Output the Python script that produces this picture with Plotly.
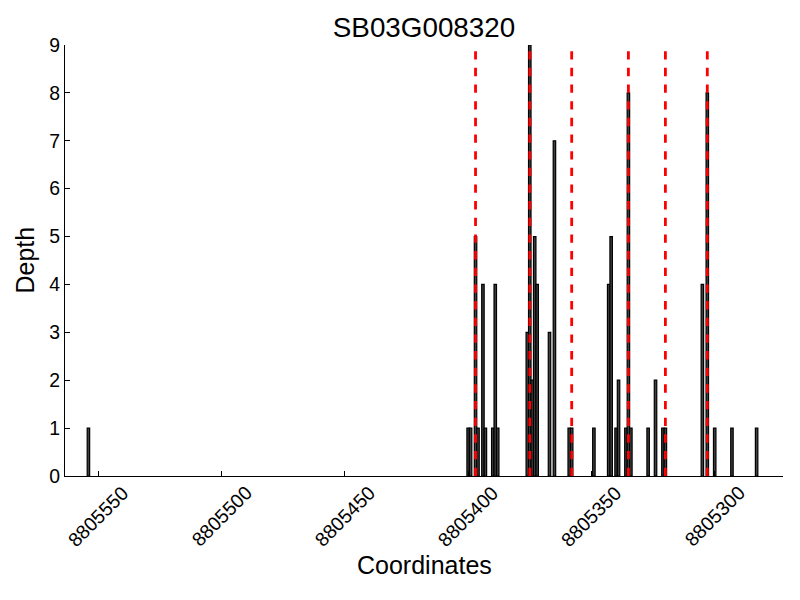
"""
Read depth plot for one gene, drawn with plotly
"""

import plotly.graph_objects as go

# depth per coordinate
positions = [8805554, 8805400, 8805399, 8805397, 8805396, 8805394, 8805393,
             8805390, 8805389, 8805388, 8805376, 8805375, 8805374, 8805373,
             8805372, 8805367, 8805365, 8805359, 8805358, 8805349, 8805343,
             8805342, 8805340, 8805339, 8805336, 8805335, 8805334, 8805327,
             8805324, 8805321, 8805320, 8805305, 8805303, 8805300, 8805293,
             8805283]
depths = [1, 1, 1, 5, 1, 4, 1,
          1, 4, 1, 3, 9, 2, 5,
          4, 3, 7, 1, 1, 1, 4,
          5, 1, 2, 1, 8, 1, 1,
          2, 1, 1, 4, 8, 1, 1,
          1]

# marked sites (red dashed lines)
sites = [8805397, 8805375, 8805358, 8805335, 8805320, 8805303]

x_ticks = [8805550, 8805500, 8805450, 8805400, 8805350, 8805300]
y_ticks = [0, 1, 2, 3, 4, 5, 6, 7, 8, 9]
x_range = [8805563.5, 8805272.3]
y_max = 9

FONT = 'Liberation Sans, Arial, sans-serif'

fig = go.Figure()

fig.add_trace(go.Bar(
    x=positions,
    y=depths,
    width=[1] * len(positions),
    marker=dict(color='#404040', line=dict(color='black', width=1.2)),
    showlegend=False
))

# one path per site, each starting at the bottom so the dash pattern matches
line_x, line_y = [], []
for s in sites:
    line_x += [s, s, None]
    line_y += [0, y_max, None]

fig.add_trace(go.Scatter(
    x=line_x,
    y=line_y,
    mode='lines',
    line=dict(color='#ff0000', width=2.8, dash='8.33px,8.33px'),
    hoverinfo='skip',
    showlegend=False
))

# rotated, centred tick labels for x
for t in x_ticks:
    fig.add_annotation(
        x=t, y=0, xref='x', yref='paper',
        text=str(t), textangle=-45, showarrow=False,
        xanchor='center', yanchor='middle', yshift=-40,
        font=dict(family=FONT, size=19.4, color='black')
    )

fig.add_annotation(
    x=0.5, y=0, xref='paper', yref='paper',
    text='Coordinates', showarrow=False,
    xanchor='center', yanchor='middle', yshift=-89,
    font=dict(family=FONT, size=25, color='black')
)
fig.add_annotation(
    x=0, y=0.5, xref='paper', yref='paper',
    text='Depth', textangle=-90, showarrow=False,
    xanchor='center', yanchor='middle', xshift=-41,
    font=dict(family=FONT, size=25, color='black')
)

# the page body has an 8px margin, so the figure is sized to fit inside it
fig.update_layout(
    width=792,
    height=584,
    title=dict(
        text='SB03G008320',
        x=0.5, xref='paper', xanchor='center',
        y=1, yref='paper', yanchor='bottom',
        pad=dict(b=8),
        font=dict(family=FONT, size=27.8, color='black')
    ),
    xaxis=dict(
        range=x_range,
        tickvals=x_ticks,
        showticklabels=False,
        ticks='inside', ticklen=5, tickwidth=1, tickcolor='black',
        showline=True, linecolor='black', linewidth=1.3,
        showgrid=False, zeroline=False
    ),
    yaxis=dict(
        range=[0, y_max],
        tickvals=y_ticks,
        ticks='inside', ticklen=5, tickwidth=1, tickcolor='black',
        tickfont=dict(family=FONT, size=19.4, color='black'),
        showline=True, linecolor='black', linewidth=1.3,
        showgrid=False, zeroline=False
    ),
    font=dict(family=FONT, color='black'),
    margin=dict(l=57, r=17, t=37, b=116, autoexpand=False),
    paper_bgcolor='white',
    plot_bgcolor='white'
)

fig.write_html("out.html")
